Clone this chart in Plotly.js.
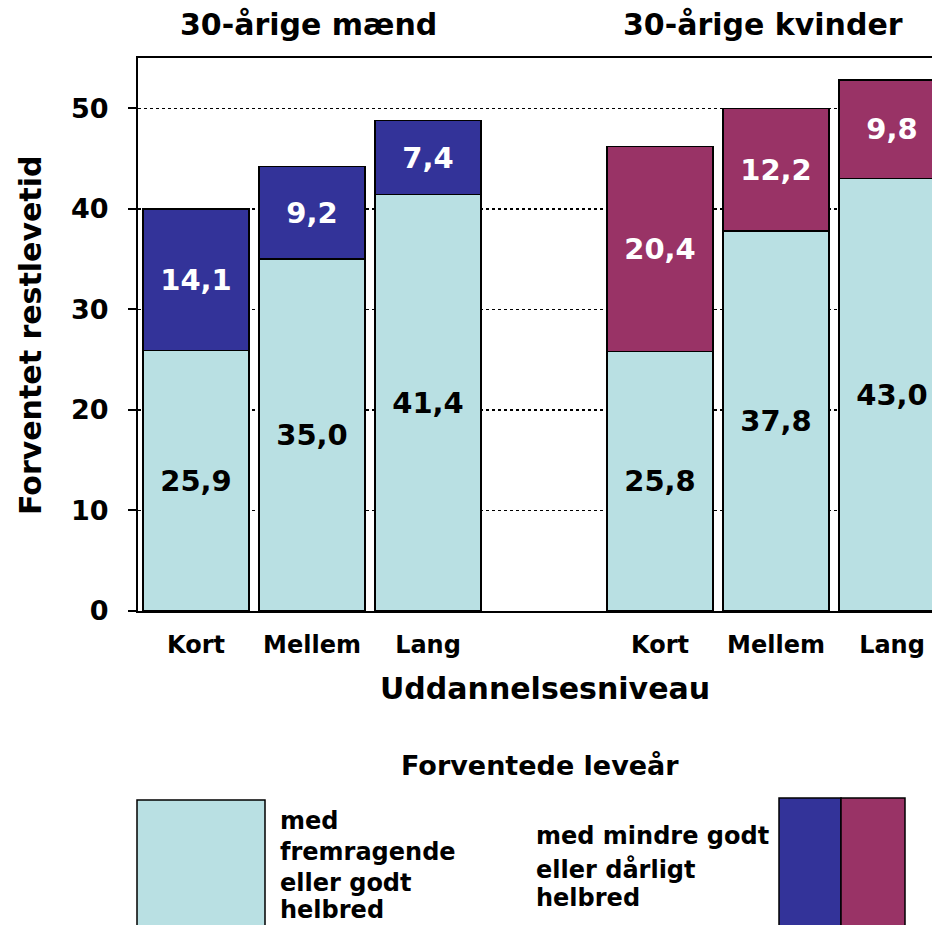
<!DOCTYPE html>
<html>
<head>
<meta charset="utf-8">
<script src="https://cdn.plot.ly/plotly-3.0.1.min.js"></script>
<style>html,body{margin:0;padding:0;background:#fff;}#chart{width:932px;height:925px;}</style>
</head>
<body>
<div id="chart"></div>
<script>
// ---- data ----
const levels = ['Kort', 'Mellem', 'Lang'];
const groupTitles = ['30-årige mænd', '30-årige kvinder'];
const menGood = [25.9, 35.0, 41.4];
const menPoor = [14.1, 9.2, 7.4];
const womenGood = [25.8, 37.8, 43.0];
const womenPoor = [20.4, 12.2, 9.8];
const yTicks = [0, 10, 20, 30, 40, 50];
const yTitle = 'Forventet restlevetid';
const xTitle = 'Uddannelsesniveau';
const legendTitle = 'Forventede leveår';
const legendGoodLines = ['med', 'fremragende', 'eller godt', 'helbred'];
const legendPoorLines = ['med mindre godt', 'eller dårligt', 'helbred'];

// ---- styles ----
const cGood = '#B9E0E3', cMen = '#333399', cWomen = '#993366';
const FONT = 'DejaVu Sans, Verdana, sans-serif';

const menCats = levels.map(l => 'M|' + l);
const womenCats = levels.map(l => 'K|' + l);
const catOrder = [...menCats, 'gap', ...womenCats];
const fmt = v => v.toFixed(1).replace('.', ',');

function bar(x, y, color, textColor) {
  return {
    type: 'bar', x: x, y: y, width: 0.91,
    marker: {color: color, line: {color: '#000', width: 1.5}},
    text: y.map(fmt), textposition: 'inside', insidetextanchor: 'middle',
    textangle: 0, constraintext: 'none',
    insidetextfont: {family: FONT, size: 29, color: textColor, weight: 'bold'},
    hoverinfo: 'skip', showlegend: false
  };
}

const data = [
  bar(menCats, menGood, cGood, '#000'),
  bar(menCats, menPoor, cMen, '#fff'),
  bar(womenCats, womenGood, cGood, '#000'),
  bar(womenCats, womenPoor, cWomen, '#fff')
];

// pixel -> paper helpers (plot area: x 138..932, y 58..611)
const L = 138, R = 932, T = 58, B = 611;
const px = p => (p - L) / (R - L);
const py = p => (B - p) / (B - T);

const ann = [];
function addText(text, x, y, size, opts) {
  ann.push(Object.assign({
    text: text, xref: 'paper', yref: 'paper', x: px(x), y: py(y),
    xanchor: 'center', yanchor: 'middle', showarrow: false,
    font: {family: FONT, size: size, color: '#000', weight: 'bold'}
  }, opts || {}));
}
addText(groupTitles[0], 308, 25, 30);
addText(groupTitles[1], 763, 25, 30);
addText(xTitle, 545, 688, 30);
addText(yTitle, 30, 336, 30, {textangle: -90});
addText(legendTitle, 540, 765, 27);
const goodY = [821, 852, 883, 910];
legendGoodLines.forEach((t, i) => addText(t, 278, goodY[i], 24, {xanchor: 'left'}));
const poorY = [836, 869, 898];
legendPoorLines.forEach((t, i) => addText(t, 534, poorY[i], 24, {xanchor: 'left'}));

function box(x0, x1, y0, y1, color) {
  return {type: 'rect', xref: 'paper', yref: 'paper', x0: px(x0), x1: px(x1), y0: py(y0), y1: py(y1),
    fillcolor: color, line: {color: '#000', width: 1.5}, layer: 'above'};
}
const shapes = [
  box(137, 265, 800, 935, cGood),
  box(779, 841, 798, 935, cMen),
  box(841, 905, 798, 935, cWomen)
];

const layout = {
  width: 932, height: 925,
  margin: {l: L, r: 932 - R, t: T, b: 925 - B, pad: 0},
  paper_bgcolor: '#fff', plot_bgcolor: '#fff',
  barmode: 'stack', showlegend: false,
  xaxis: {
    type: 'category', categoryorder: 'array', categoryarray: catOrder,
    range: [-0.5, -0.5 + (R - L) / 116],
    tickvals: [...menCats, ...womenCats], ticktext: [...levels, ...levels],
    tickfont: {family: FONT, size: 24, color: '#000', weight: 'bold'},
    ticks: '', ticklabelstandoff: 11,
    showline: true, linecolor: '#000', linewidth: 2, mirror: true,
    showgrid: false, zeroline: false, fixedrange: true
  },
  yaxis: {
    range: [0, 55], tickvals: yTicks,
    tickfont: {family: FONT, size: 27, color: '#000', weight: 'bold'},
    ticks: 'outside', ticklen: 8, tickwidth: 2, tickcolor: '#000', ticklabelstandoff: 14,
    showline: true, linecolor: '#000', linewidth: 2,
    showgrid: true, gridcolor: '#000', gridwidth: 1.5, griddash: 'dot',
    zeroline: false, fixedrange: true
  },
  annotations: ann,
  shapes: shapes
};

Plotly.newPlot('chart', data, layout, {staticPlot: true, displayModeBar: false});
</script>
</body>
</html>
